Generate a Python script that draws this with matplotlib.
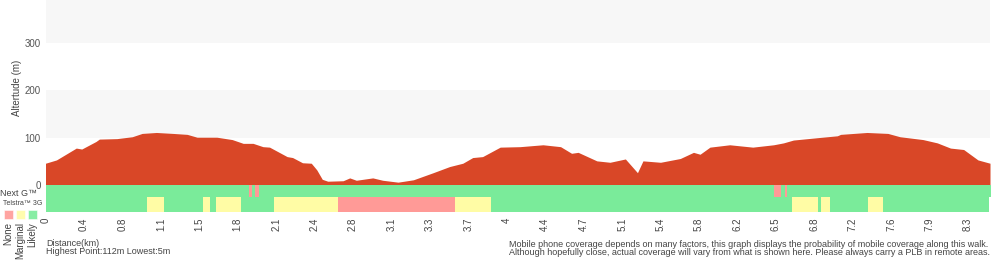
import matplotlib
matplotlib.use("Agg")
import matplotlib.pyplot as plt
import numpy as np

plt.rcParams['font.family'] = ['Liberation Sans', 'DejaVu Sans']

# walk profile, distance along the chart axis (km) and altitude (m)
dist = [0, 0.10, 0.28, 0.33, 0.46, 0.49, 0.65, 0.79, 0.88, 1.01, 1.16, 1.29, 1.38,
        1.56, 1.70, 1.80, 1.89, 1.98, 2.04, 2.20, 2.25, 2.34, 2.42, 2.47, 2.52,
        2.57, 2.71, 2.77, 2.83, 2.98, 3.07, 3.21, 3.35, 3.53, 3.68, 3.80, 3.89,
        3.98, 4.14, 4.32, 4.53, 4.69, 4.79, 4.85, 5.02, 5.14, 5.28, 5.39, 5.44,
        5.60, 5.78, 5.90, 5.96, 6.05, 6.23, 6.44, 6.63, 6.72, 6.81, 7.03, 7.21,
        7.24, 7.48, 7.67, 7.78, 7.99, 8.12, 8.24, 8.36, 8.49, 8.60]
alt = [46, 53, 78, 76, 92, 97, 98, 102, 109, 111, 109, 107, 101,
       101, 96, 88, 88, 81, 80, 60, 58, 47, 46, 32, 12,
       8, 9, 15, 10, 15, 10, 6, 11, 26, 39, 46, 58,
       60, 80, 81, 85, 81, 67, 69, 51, 48, 55, 26, 51,
       48, 56, 69, 65, 80, 85, 80, 85, 89, 95, 100, 104,
       107, 111, 109, 102, 96, 89, 78, 75, 53, 46]

# coverage segments: start of each segment (km) and level
nextg_start = [0, 1.85, 1.88, 1.91, 1.94, 6.63, 6.70, 6.73, 6.75]
nextg_level = ['Likely', 'None', 'Likely', 'None', 'Likely', 'None', 'Likely', 'None', 'Likely']
nextg_end = 8.61
g3_start = [0, 0.92, 1.08, 1.43, 1.50, 1.55, 1.78, 2.08, 2.66, 3.73, 4.06,
            6.80, 7.03, 7.06, 7.14, 7.49, 7.63]
g3_level = ['Likely', 'Marginal', 'Likely', 'Marginal', 'Likely', 'Marginal', 'Likely',
            'Marginal', 'None', 'Marginal', 'Likely', 'Marginal', 'Likely', 'Marginal',
            'Likely', 'Marginal', 'Likely']
g3_end = 8.59

tick_labels = ['0', '0.4', '0.8', '1.1', '1.5', '1.8', '2.1', '2.4', '2.8', '3.1', '3.3',
               '3.7', '4', '4.4', '4.7', '5.1', '5.4', '5.8', '6.2', '6.5', '6.8', '7.2',
               '7.6', '7.9', '8.3']
tick_step = 0.35

levels = ['None', 'Marginal', 'Likely']
level_colors = {'None': '#ff9a97', 'Marginal': '#fffca5', 'Likely': '#7aeb9a'}

W, H = 1000, 260
fig = plt.figure(figsize=(10, 2.6), dpi=100)


def px(x, y):
    return x / W, 1 - y / H


L, R = 45.5, 990
ax = fig.add_axes([L / W, 75 / H, (R - L) / W, 185 / H])
ax.axhspan(100, 200, color='#f7f7f7', lw=0)
ax.axhspan(300, 400, color='#f7f7f7', lw=0)
ax.fill_between(dist, alt, 0, color='#d94727', lw=0)
ax.set_xlim(0, 8.6)
ax.set_ylim(0, 391)
ax.set_yticks([0, 100, 200, 300])
ax.tick_params(axis='y', length=0, pad=3.5, labelsize=7, labelcolor='#555555')
ax.set_xticks([])
for s in ax.spines.values():
    s.set_visible(False)

cov = fig.add_axes([L / W, 48 / H, (R - L) / W, 27 / H])
for starts, lv, end, y0, h in [(nextg_start, nextg_level, nextg_end, 15, 12),
                               (g3_start, g3_level, g3_end, 0, 15)]:
    ends = list(starts[1:]) + [end]
    for a, b, l in zip(starts, ends, lv):
        cov.broken_barh([(a, b - a)], (y0, h), color=level_colors[l], lw=0)
cov.set_xlim(0, 8.6)
cov.set_ylim(0, 27)
cov.set_yticks([])
cov.set_xticks(np.arange(len(tick_labels)) * tick_step)
cov.set_xticklabels(tick_labels, rotation=90, va='top', ha='center')
cov.tick_params(axis='x', length=0, pad=4, labelsize=7, labelcolor='#444444')
for s in cov.spines.values():
    s.set_visible(False)

tc = '#444444'
fig.text(*px(17, 88), 'Altertude (m)', rotation=90, ha='center', va='center', fontsize=7, color=tc)
fig.text(*px(0, 194), 'Next G\u2122', ha='left', va='center', fontsize=6.5, color=tc)
fig.text(*px(3, 203.5), 'Telstra\u2122 3G', ha='left', va='center', fontsize=5, color=tc)
for i, l in enumerate(levels):
    x0 = 4 + i * 12
    fig.patches.append(plt.Rectangle(px(x0, 219), 9 / W, 9 / H, transform=fig.transFigure,
                                     facecolor=level_colors[l], edgecolor='white', lw=0.4,
                                     alpha=0.9))
    fig.text(*px(x0 + 4.5, 222), l, rotation=90, ha='center', va='top', fontsize=7, color=tc)

fig.text(*px(46, 244), 'Distance(km)', ha='left', va='center', fontsize=6.5, color=tc)
fig.text(*px(46, 252), 'Highest Point:112m Lowest:5m', ha='left', va='center', fontsize=6.5, color=tc)
fig.text(*px(509, 244.5), 'Mobile phone coverage depends on many factors, this graph displays the '
         'probability of mobile coverage along this walk.', ha='left', va='center', fontsize=6.45, color=tc)
fig.text(*px(509, 252.5), 'Although hopefully close, actual coverage will vary from what is shown '
         'here. Please always carry a PLB in remote areas.', ha='left', va='center', fontsize=6.45, color=tc)

fig.savefig('out.png', dpi=100)
